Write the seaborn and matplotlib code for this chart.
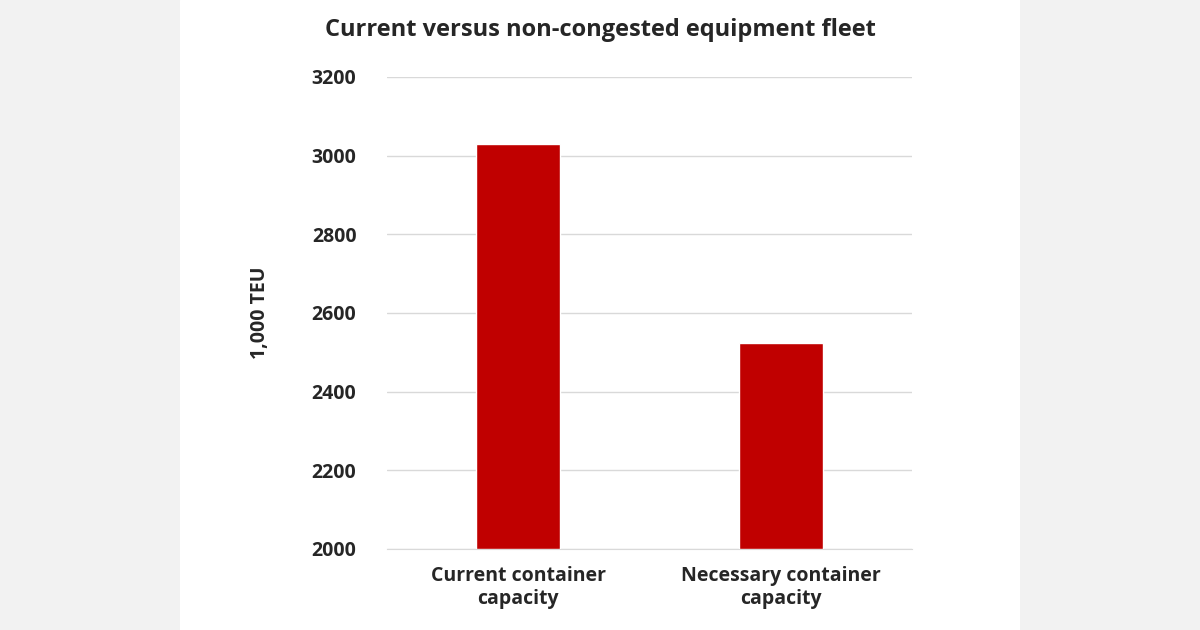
import matplotlib
matplotlib.use("Agg")
import matplotlib.pyplot as plt
import seaborn as sns
import pandas as pd

categories = ["Current container\ncapacity", "Necessary container\ncapacity"]
values = [3030, 2524]
yticks = [2000, 2200, 2400, 2600, 2800, 3000, 3200]

sns.set_style("white")
plt.rcParams['font.family'] = ['Open Sans', 'DejaVu Sans']

df = pd.DataFrame({"cat": categories, "val": values})

fig = plt.figure(figsize=(12, 6.3), dpi=100, facecolor="#f2f2f2")
# white panel in the middle
bg = fig.add_axes([180 / 1200, 0, 840 / 1200, 1], zorder=-1)
bg.set_facecolor("white")
bg.axis("off")
bg.add_patch(plt.Rectangle((0, 0), 1, 1, transform=bg.transAxes, color="white"))

ax = fig.add_axes([387 / 1200, 81 / 630, 525 / 1200, 472 / 630], zorder=1)
ax.set_facecolor("none")

sns.barplot(data=df, x="cat", y="val", color="#c00000", width=0.32, ax=ax,
            saturation=1, zorder=3)
for p in ax.patches:
    p.set_y(2000)
    p.set_height(p.get_height() - 2000)

ax.set_ylim(2000, 3200)
ax.set_xlim(-0.5, 1.5)
ax.set_yticks(yticks)
ax.set_yticklabels([str(t) for t in yticks], fontsize=14, fontweight="bold")
ax.tick_params(axis="x", labelsize=14, length=0, pad=12)
for lbl in ax.get_xticklabels():
    lbl.set_fontweight("bold")
ax.tick_params(axis="y", length=0, pad=22)
ax.yaxis.grid(True, color="#d9d9d9", linewidth=1, zorder=0)
ax.set_axisbelow(True)
for s in ["top", "right", "left"]:
    ax.spines[s].set_visible(False)
ax.spines["bottom"].set_color("#d9d9d9")
ax.set_xlabel("")
ax.set_ylabel("1,000 TEU", fontsize=14, fontweight="bold", labelpad=30)

fig.text(0.5, 600 / 630, "Current versus non-congested equipment fleet",
         ha="center", va="center", fontsize=17, fontweight="bold")

fig.savefig("out.png", dpi=100, facecolor=fig.get_facecolor())
